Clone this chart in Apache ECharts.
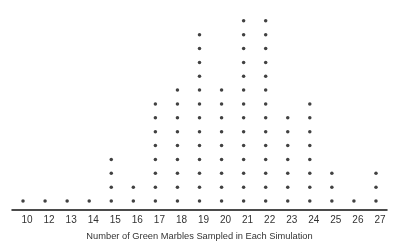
<!DOCTYPE html>
<html><head><meta charset="utf-8">
<script src="https://cdn.jsdelivr.net/npm/echarts@6/dist/echarts.min.js"></script>
<style>html,body{margin:0;padding:0;background:#fff}#c{width:400px;height:251px}</style>
</head><body><div id="c"></div>
<script>
var categories = ['10','12','13','14','15','16','17','18','19','20','21','22','23','24','25','26','27'];
var counts = [1,1,1,1,4,2,8,9,13,9,14,14,7,8,3,1,3];
var axisTitle = 'Number of Green Marbles Sampled in Each Simulation';

var points = [];
counts.forEach(function(n, i){ for (var k = 1; k <= n; k++) points.push([i, k]); });

var chart = echarts.init(document.getElementById('c'));
chart.setOption({
  animation: false,
  backgroundColor: '#fff',
  grid: {left: 12, right: 13, top: 0, bottom: 41},
  xAxis: {
    type: 'category', data: categories, boundaryGap: true,
    axisLine: {lineStyle: {color: '#111', width: 1.5}},
    axisTick: {show: false},
    axisLabel: {color: '#333', fontSize: 10, fontFamily: 'Liberation Sans', margin: 5, padding: [0,0,0,8]},
    name: axisTitle, nameLocation: 'middle', nameGap: 22,
    nameTextStyle: {color: '#333', fontSize: 9.3, fontFamily: 'Liberation Sans'}
  },
  yAxis: {type: 'value', min: 0.35, max: 15.5, show: false, splitLine: {show: false}},
  series: [{
    type: 'scatter', data: points, symbol: 'circle', symbolSize: 3.5,
    itemStyle: {color: '#111'}
  }]
});
</script></body></html>
